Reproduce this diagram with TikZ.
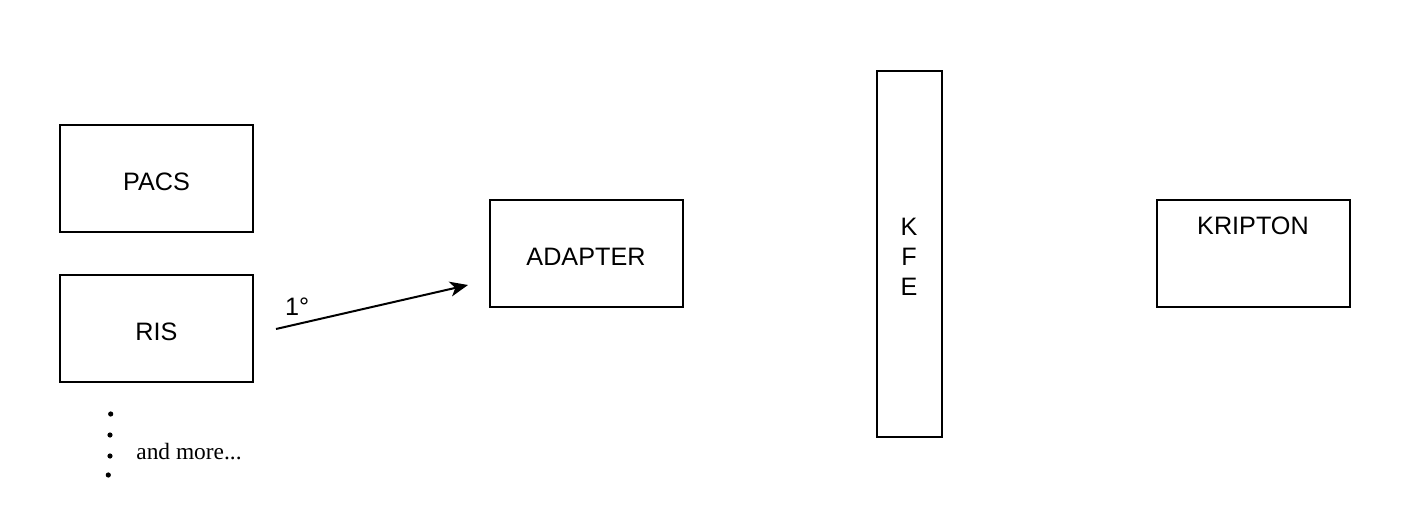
\documentclass[tikz,border=0pt]{standalone}
\usepackage{fontspec}
\setmainfont{Liberation Sans}
\newfontfamily\serifnote{Liberation Serif}
\usepackage{tikz}
\usetikzlibrary{
    arrows,
    arrows.meta,
    shapes,
    calc,
    positioning
}

\tikzset{
    block/.style={draw, line width=1pt, rectangle, inner sep=0pt,
        minimum width=96.5pt, minimum height=53.5pt,
        text height=12pt, text depth=0pt,
        font=\fontsize{12.6}{15}\selectfont},
    bar/.style={block, minimum width=32.5pt, minimum height=183pt, align=center,
        text height=41.3pt, text depth=0pt},
    bullet/.style={circle, fill, inner sep=0pt, minimum size=2.6pt}
}

\begin{document}
\begin{tikzpicture}[x=0.5pt, y=-0.5pt]
                            \useasboundingbox (0, 0) rectangle (1403, 524);
                            \node[block] (pacs) at (156.5, 178.5) {PACS};
                            \node[block] (ris) at (156.5, 328.5) {RIS};
                            \node[block] (adapter) at (586, 253.5) {ADAPTER};
                            \node[bar] (kfe) at (909, 253.7) {K\\F\\E};
                            \node[block, label={[anchor=center, yshift=-13.4pt, font=\fontsize{12.6}{15}\selectfont]north:KRIPTON}] (kripton) at (1253, 253.5) {};
                            \coordinate (risout) at (276, 329);
                            \coordinate (adapterin) at (468, 285);
                            \draw (risout) edge[-{Stealth[length=9pt, width=7.5pt, inset=2.5pt]}, line width=1pt, above] node[pos=0.11, yshift=0.5pt, font=\fontsize{12.6}{15}\selectfont]{1°} (adapterin);
                            \foreach \x/\y [count=\i] in {110.7/414, 110/435, 110/456, 108.3/475}
                                \node[bullet] (dot\i) at (\x, \y) {};
                            \node[anchor=west, inner sep=0pt, font=\serifnote\fontsize{11.7}{14}\selectfont] (more) at (136, 452) {and more...};
                        \end{tikzpicture}
\end{document}
